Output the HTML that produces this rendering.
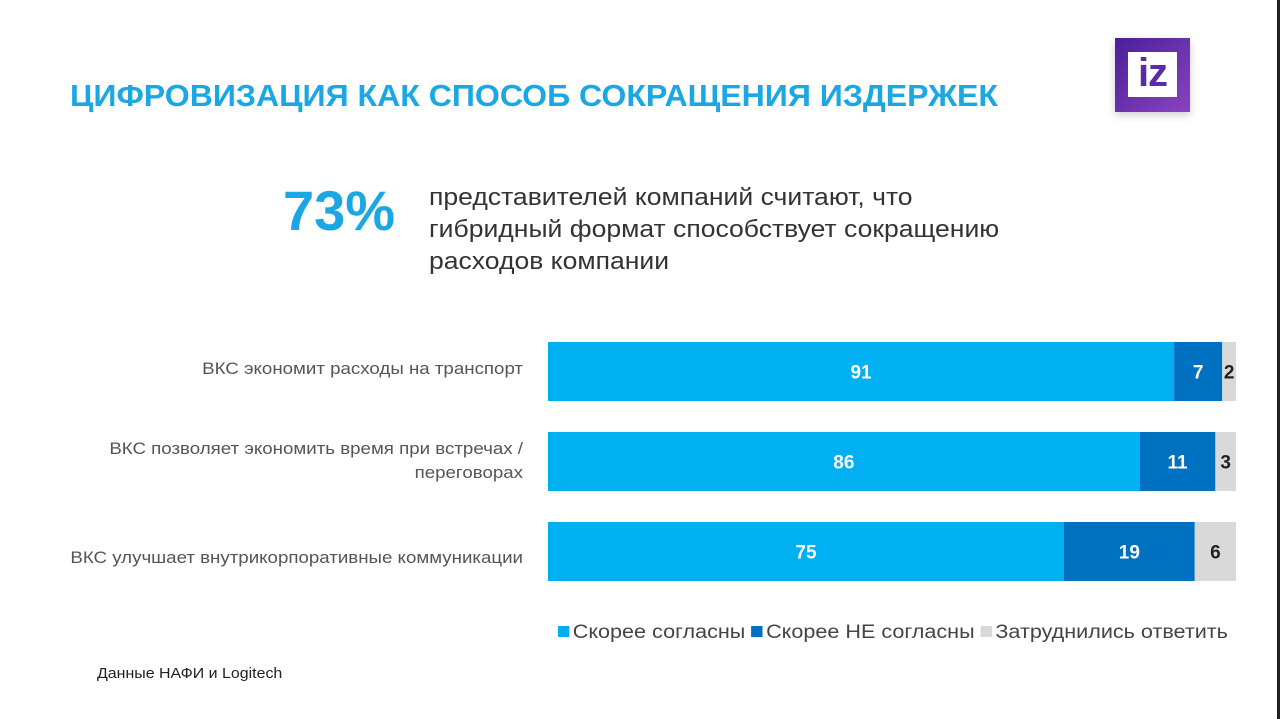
<!DOCTYPE html>
<html><head><meta charset="utf-8"><style>
body{margin:0;width:1280px;height:719px;background:#fff;position:relative;overflow:hidden;font-family:"Liberation Sans",sans-serif;}
.abs{position:absolute}
.title{left:70px;top:78px;font-size:31px;font-weight:bold;color:#1aa7e3;white-space:nowrap;transform:scaleX(1.034);transform-origin:left top}
.big{left:283px;top:178px;font-size:56px;font-weight:bold;color:#1aa7e3}
.desc{left:429px;top:182px;font-size:24px;line-height:32px;color:#333;white-space:nowrap;transform:scaleX(1.106);transform-origin:left top}
.lbl{font-size:17px;color:#555;text-align:right;width:520px;left:3px;line-height:24px;transform:scaleX(1.1);transform-origin:right top}
.legend{left:558px;top:622px;font-size:19px;color:#444;white-space:nowrap;transform:scaleX(1.136);transform-origin:left top}
.sw{display:inline-block;width:10px;height:11px;margin-right:3px;vertical-align:1px}
.src{left:97px;top:665px;font-size:15px;color:#222;transform:scaleX(1.063);transform-origin:left top;white-space:nowrap}
</style></head><body>
<div class="abs title">ЦИФРОВИЗАЦИЯ КАК СПОСОБ СОКРАЩЕНИЯ ИЗДЕРЖЕК</div>
<div class="abs" style="left:1115px;top:38px;width:75px;height:74px;background:linear-gradient(135deg,#4a1f9a,#8a43c0);box-shadow:0 3px 8px rgba(0,0,0,0.2)">
 <div style="position:absolute;left:13px;top:14px;width:49px;height:45px;background:#fff;"></div>
 <div style="position:absolute;left:13px;top:13px;width:49px;font:bold 40px 'Liberation Sans',sans-serif;color:#5b2aa8;text-align:center;letter-spacing:-1px">iz</div>
</div>
<div class="abs big">73%</div>
<div class="abs desc">представителей компаний считают, что<br>гибридный формат способствует сокращению<br>расходов компании</div>
<svg class="abs" style="left:0;top:0" width="1280" height="719" id="chart"></svg>
<div class="abs lbl" style="top:357px">ВКС экономит расходы на транспорт</div>
<div class="abs lbl" style="top:437px">ВКС позволяет экономить время при встречах /<br>переговорах</div>
<div class="abs lbl" style="top:546px">ВКС улучшает внутрикорпоративные коммуникации</div>
<div class="abs legend">
<span><span class="sw" style="background:#00b0f0"></span>Скорее согласны</span>
<span><span class="sw" style="background:#0070c0"></span>Скорее НЕ согласны</span>
<span><span class="sw" style="background:#d9d9d9"></span>Затруднились ответить</span>
</div>
<div class="abs src">Данные НАФИ и Logitech</div>
<div class="abs" style="left:1277px;top:0;width:3px;height:719px;background:#222"></div>
<script>
const categories=["transport","time","communications"];
const agree=[91,86,75];
const disagree=[7,11,19];
const unsure=[2,3,6];
const colors=["#00b0f0","#0070c0","#d9d9d9"];
const textColors=["#fff","#fff","#222"];
const svg=document.getElementById('chart');
const x0=548,W=688,rowTop=342,rowStep=90,barH=59;
const xs=v=>v/100*W;
const ns="http://www.w3.org/2000/svg";
categories.forEach((c,i)=>{
  const vals=[agree[i],disagree[i],unsure[i]];
  let acc=0;
  vals.forEach((v,j)=>{
    const r=document.createElementNS(ns,'rect');
    r.setAttribute('x',x0+xs(acc));r.setAttribute('y',rowTop+i*rowStep);
    r.setAttribute('width',xs(v));r.setAttribute('height',barH);r.setAttribute('fill',colors[j]);
    
    
    svg.appendChild(r);
    const t=document.createElementNS(ns,'text');
    t.setAttribute('x',x0+xs(acc+v/2));t.setAttribute('y',rowTop+i*rowStep+barH/2+7);
    t.setAttribute('text-anchor','middle');t.setAttribute('font-family','Liberation Sans, sans-serif');
    t.setAttribute('font-size','19');t.setAttribute('font-weight','bold');t.setAttribute('fill',textColors[j]);
    t.textContent=v;
    
    
    svg.appendChild(t);
    acc+=v;
  });
});
</script>
</body></html>
